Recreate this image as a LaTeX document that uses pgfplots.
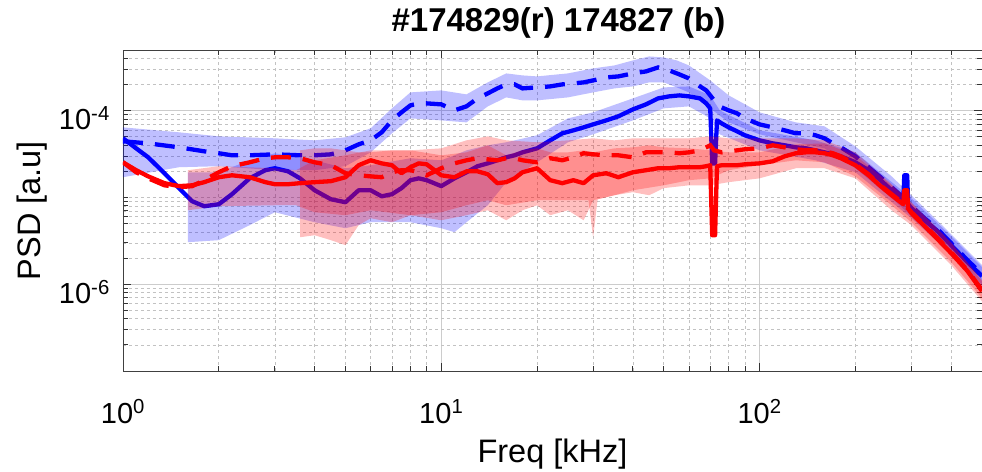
\documentclass[border=0pt]{standalone}
\usepackage{fontspec}
\setmainfont{Liberation Sans}
\usepackage{pgfplots}
\pgfplotsset{compat=1.18}
\definecolor{mblue}{rgb}{0,0,1}
\definecolor{mred}{rgb}{1,0,0}

\begin{document}
\begin{tikzpicture}
\begin{axis}[
  at={(0,0)}, anchor=south west,
  scale only axis, width=859pt, height=321pt,
  xmode=log, ymode=log,
  xmin=1, xmax=500, ymin=1e-7, ymax=5e-4,
  xtick={1,10,100},
  xticklabels={10\textsuperscript{0},10\textsuperscript{1},10\textsuperscript{2}},
  minor xtick={2,3,4,5,6,7,8,9,20,30,40,50,60,70,80,90,200,300,400,500},
  ytick={1e-6,1e-4},
  yticklabels={10\textsuperscript{-6},10\textsuperscript{-4}},
  minor ytick={2e-7,3e-7,4e-7,5e-7,6e-7,7e-7,8e-7,9e-7,2e-6,3e-6,4e-6,5e-6,6e-6,7e-6,8e-6,9e-6,1e-5,2e-5,3e-5,4e-5,5e-5,6e-5,7e-5,8e-5,9e-5,2e-4,3e-4,4e-4},
  grid=both,
  major grid style={black!20, line width=0.7pt},
  minor grid style={black!24, line width=0.6pt, dash pattern=on 3pt off 3pt},
  tick align=inside,
  major tick length=8pt, minor tick length=5pt,
  tick style={black!80, line width=0.8pt},
  axis line style={black!75, line width=0.8pt},
  xticklabel style={font=\fontsize{29}{34}\selectfont, inner sep=0pt, anchor=base, yshift=-52pt},
  yticklabel style={font=\fontsize{29}{34}\selectfont, inner sep=0pt, anchor=base east, xshift=-13pt, yshift=-19pt},
  xlabel={Freq [kHz]},
  xlabel style={font=\fontsize{32.5}{38}\selectfont, at={(axis description cs:0.5,-0.2835)}, anchor=base},
  ylabel={PSD [a.u]},
  ylabel style={font=\fontsize{32.5}{38}\selectfont, at={(axis description cs:-0.0966,0.5)}, anchor=base},
  title={\#174829(r) 174827 (b)},
  title style={font=\bfseries\fontsize{33}{40}\selectfont, at={(axis description cs:0.5,1.0374)}, anchor=base, xshift=6pt},
]
% blue dashed band
\addplot[draw=none, fill=mblue, fill opacity=0.25] coordinates {
 (1,6.42e-5) (1.5,5.63e-5) (2,5.06e-5) (3,4.80e-5) (4,4.55e-5) (5,4.93e-5) (6,6.26e-5) (7,1.063e-4)
 (8,1.624e-4) (10,1.712e-4) (12,1.540e-4) (14,2.117e-4) (16,2.687e-4) (18,2.548e-4) (20,2.482e-4)
 (25,2.687e-4) (30,3.068e-4) (35,3.321e-4) (40,3.792e-4) (45,4.216e-4) (50,4.106e-4) (55,3.792e-4)
 (60,3.321e-4) (70,2.232e-4) (80,1.500e-4) (100,9.56e-5) (130,7.33e-5) (160,6.60e-5) (200,3.88e-5)
 (260,1.75e-5) (300,1.06e-5) (400,3.77e-6) (500,1.66e-6)
 (500,9.8e-7) (400,2.34e-6) (300,6.08e-6) (260,9.79e-6) (200,2.17e-5) (160,3.68e-5) (130,4.32e-5)
 (100,5.34e-5) (80,7.33e-5) (70,1.063e-4) (60,1.624e-4) (55,1.854e-4) (50,2.117e-4) (45,2.117e-4)
 (40,1.904e-4) (35,1.805e-4) (30,1.624e-4) (25,1.422e-4) (20,1.314e-4) (18,1.314e-4) (16,1.422e-4)
 (14,1.121e-4) (12,7.33e-5) (10,7.73e-5) (8,8.15e-5) (7,5.48e-5) (6,3.31e-5) (5,2.29e-5) (4,2.06e-5)
 (3,2.06e-5) (2,2.29e-5) (1.5,2.23e-5) (1,1.71e-5)} -- cycle;
% blue solid band
\addplot[draw=none, fill=mblue, fill opacity=0.25] coordinates {
 (1.6,1.95e-5) (2,1.95e-5) (2.5,2.68e-5) (3,3.23e-5) (4,2.68e-5) (5,2.17e-5) (6,2.35e-5) (8,2.83e-5)
 (10,2.68e-5) (11,3.06e-5) (12,3.49e-5) (14,3.99e-5) (16,4.32e-5) (20,5.20e-5) (25,8.15e-5) (30,9.56e-5)
 (40,1.385e-4) (50,1.854e-4) (60,1.904e-4) (70,1.500e-4) (75,1.008e-4) (100,5.93e-5) (150,4.55e-5)
 (200,3.31e-5) (300,9.79e-6) (400,3.58e-6) (500,1.573e-6)
 (500,9.51e-7) (400,2.22e-6) (300,5.76e-6) (200,1.95e-5) (150,2.68e-5) (100,3.49e-5) (75,5.34e-5)
 (70,8.15e-5) (60,1.121e-4) (50,1.063e-4) (40,7.73e-5) (30,5.34e-5) (25,4.32e-5) (20,2.54e-5)
 (16,1.50e-5) (14,8.13e-6) (12,5.18e-6) (11,3.98e-6) (10,4.42e-6) (8,5.18e-6) (6,5.18e-6) (5,4.42e-6)
 (4,5.18e-6) (3,6.76e-6) (2.5,4.79e-6) (2,3.22e-6) (1.6,3.05e-6)} -- cycle;
% blue solid
\addplot[mblue, line width=4.3pt, line join=round] coordinates {
 (1,4.80e-5) (1.1,3.68e-5) (1.2,2.90e-5) (1.35,1.90e-5) (1.5,1.28e-5) (1.65,9.04e-6) (1.8,7.92e-6)
 (2,8.35e-6) (2.2,1.09e-5) (2.5,1.66e-5) (2.8,2.06e-5) (3,2.17e-5) (3.3,2.00e-5) (3.6,1.66e-5)
 (4,1.21e-5) (4.5,9.53e-6) (5,8.81e-6) (5.5,1.21e-5) (6,1.21e-5) (6.5,1.03e-5) (7,1.09e-5)
 (7.5,1.28e-5) (8,1.58e-5) (8.5,1.66e-5) (9,1.58e-5) (10,1.35e-5) (11,1.66e-5) (12,1.95e-5)
 (13,2.29e-5) (14,2.47e-5) (15,2.68e-5) (16,2.90e-5) (17,3.06e-5) (18,3.31e-5) (20,3.68e-5)
 (22,4.55e-5) (24,5.48e-5) (26,5.93e-5) (28,6.42e-5) (30,6.95e-5) (33,7.73e-5) (36,8.60e-5)
 (40,1.035e-4) (44,1.182e-4) (48,1.385e-4) (52,1.461e-4) (56,1.500e-4) (60,1.461e-4) (65,1.385e-4)
 (68,1.213e-4) (70,1.063e-4) (71,2.47e-5) (72.5,2.47e-5) (73.5,7.73e-5) (76,7.14e-5) (80,6.42e-5)
 (85,5.78e-5) (90,5.20e-5) (100,4.55e-5) (110,4.20e-5) (120,3.99e-5) (130,3.78e-5) (140,3.68e-5)
 (150,3.49e-5) (160,3.31e-5) (170,3.14e-5) (180,2.98e-5) (200,2.54e-5) (220,2.06e-5) (240,1.58e-5)
 (260,1.21e-5) (280,9.79e-6) (283,9.53e-6) (285,1.80e-5) (291,1.80e-5) (293,8.35e-6) (300,7.51e-6)
 (330,5.46e-6) (360,4.19e-6) (400,2.82e-6) (450,1.80e-6) (500,1.24e-6)};
% blue dashed
\addplot[mblue, line width=4.3pt, dash pattern=on 20pt off 12pt] coordinates {
 (1,4.43e-5) (1.2,4.20e-5) (1.5,3.78e-5) (1.8,3.40e-5) (2,3.23e-5) (2.2,3.06e-5) (2.5,3.06e-5)
 (3,3.14e-5) (3.6,3.06e-5) (4,3.06e-5) (4.5,3.14e-5) (5,3.49e-5) (5.5,4.09e-5) (6,4.55e-5)
 (6.5,5.63e-5) (7,7.73e-5) (7.5,9.56e-5) (8,1.151e-4) (8.5,1.213e-4) (9,1.213e-4) (10,1.182e-4)
 (11,1.008e-4) (12,1.121e-4) (13,1.385e-4) (14,1.582e-4) (15,1.805e-4) (16,2.008e-4) (17,2.008e-4)
 (18,1.805e-4) (20,1.854e-4) (22,1.904e-4) (24,2.008e-4) (26,2.062e-4) (28,2.117e-4) (30,2.232e-4)
 (33,2.416e-4) (36,2.482e-4) (40,2.687e-4) (44,2.834e-4) (48,3.150e-4) (52,2.910e-4) (56,2.617e-4)
 (60,2.353e-4) (65,1.904e-4) (68,1.712e-4) (70,1.500e-4) (72,1.314e-4) (76,1.091e-4) (80,1.008e-4)
 (85,9.31e-5) (90,8.15e-5) (100,6.95e-5) (110,6.42e-5) (120,5.93e-5) (130,5.48e-5) (140,5.48e-5)
 (150,5.20e-5) (160,4.80e-5) (170,4.20e-5) (180,3.78e-5) (200,2.98e-5) (220,2.23e-5) (240,1.71e-5)
 (260,1.31e-5) (280,1.03e-5) (300,7.92e-6) (330,5.76e-6) (360,4.42e-6) (400,2.97e-6) (450,1.894e-6)
 (500,1.307e-6)};
% red solid band
\addplot[draw=none, fill=mred, fill opacity=0.25] coordinates {
 (1.6,2.06e-5) (2,2.29e-5) (3,2.17e-5) (3.5,2.06e-5) (4,2.68e-5) (5,3.06e-5) (6,3.49e-5) (8,3.49e-5)
 (10,3.06e-5) (12,3.31e-5) (14,3.99e-5) (16,3.06e-5) (18,3.49e-5) (20,3.68e-5) (22,3.31e-5) (25,3.31e-5)
 (28,3.49e-5) (30,3.31e-5) (35,3.68e-5) (40,3.78e-5) (45,3.99e-5) (50,3.78e-5) (60,3.68e-5) (70,3.49e-5)
 (80,3.31e-5) (100,3.31e-5) (130,4.09e-5) (160,4.20e-5) (200,3.06e-5) (260,1.38e-5) (300,8.58e-6)
 (400,2.97e-6) (500,1.085e-6)
 (500,6.39e-7) (400,1.66e-6) (300,4.79e-6) (260,7.12e-6) (200,1.66e-5) (160,2.17e-5) (130,2.17e-5)
 (100,1.66e-5) (80,1.50e-5) (70,1.38e-5) (60,1.38e-5) (50,1.28e-5) (45,1.06e-5) (40,1.15e-5) (35,1.06e-5)
 (30,9.29e-6) (28,5.46e-6) (25,7.12e-6) (22,6.24e-6) (20,8.13e-6) (18,7.12e-6) (16,5.46e-6) (14,7.12e-6)
 (12,6.24e-6) (10,5.46e-6) (8,6.24e-6) (6,7.12e-6) (5,6.24e-6) (4,6.76e-6) (3.5,8.13e-6) (3,8.13e-6)
 (2,7.92e-6) (1.6,7.12e-6)} -- cycle;
% red dashed band
\addplot[draw=none, fill=mred, fill opacity=0.25] coordinates {
 (3.6,3.49e-5) (4,3.68e-5) (4.5,3.68e-5) (5,3.49e-5) (5.5,3.31e-5) (6,3.31e-5) (7,3.49e-5) (8,3.49e-5)
 (10,3.68e-5) (12,4.55e-5) (14,5.06e-5) (16,4.55e-5) (20,4.32e-5) (25,4.55e-5) (30,4.80e-5) (35,4.55e-5)
 (40,4.80e-5) (50,4.80e-5) (60,4.80e-5) (70,5.06e-5) (80,4.80e-5) (100,4.80e-5) (130,4.80e-5)
 (160,4.55e-5) (200,3.31e-5) (260,1.42e-5) (300,8.81e-6) (400,3.05e-6) (500,1.11e-6)
 (500,6.92e-7) (400,1.80e-6) (300,5.18e-6) (260,8.13e-6) (200,1.75e-5) (160,2.54e-5) (130,2.68e-5)
 (100,2.35e-5) (80,2.06e-5) (70,1.66e-5) (60,1.58e-5) (50,1.38e-5) (40,1.21e-5) (35,1.06e-5)
 (31,9.5e-6) (30,3.48e-6) (29,9.29e-6) (25,9.29e-6) (20,9.29e-6) (16,8.13e-6) (14,9.29e-6) (12,8.13e-6)
 (10,6.76e-6) (8,6.24e-6) (7,5.18e-6) (6,5.76e-6) (5.5,4.79e-6) (5,2.82e-6) (4.5,3.22e-6) (4,3.67e-6)
 (3.6,3.48e-6)} -- cycle;
% red solid
\addplot[mred, line width=4.3pt, line join=round] coordinates {
 (1,2.54e-5) (1.1,2.06e-5) (1.2,1.75e-5) (1.35,1.46e-5) (1.5,1.35e-5) (1.65,1.38e-5) (1.8,1.50e-5)
 (2,1.71e-5) (2.2,1.80e-5) (2.5,1.71e-5) (2.8,1.50e-5) (3,1.42e-5) (3.3,1.42e-5) (3.6,1.46e-5)
 (4,1.50e-5) (4.5,1.54e-5) (5,1.71e-5) (5.5,2.35e-5) (6,2.68e-5) (6.5,2.47e-5) (7,2.35e-5)
 (7.5,1.90e-5) (8,2.23e-5) (8.5,2.47e-5) (9,2.41e-5) (10,1.80e-5) (11,1.71e-5) (12,2.00e-5)
 (13,2.00e-5) (14,1.85e-5) (15,1.46e-5) (16,1.50e-5) (17,1.66e-5) (18,1.95e-5) (20,2.17e-5)
 (22,1.58e-5) (24,1.46e-5) (26,1.58e-5) (28,1.46e-5) (30,1.80e-5) (33,1.90e-5) (36,1.71e-5)
 (40,1.95e-5) (44,2.06e-5) (48,2.17e-5) (52,2.17e-5) (56,2.23e-5) (60,2.23e-5) (65,2.23e-5)
 (68,2.29e-5) (70,2.35e-5) (71,3.67e-6) (72.5,3.67e-6) (73.5,2.29e-5) (76,2.35e-5) (80,2.35e-5)
 (85,2.35e-5) (90,2.41e-5) (100,2.47e-5) (110,2.61e-5) (120,2.98e-5) (130,3.23e-5) (140,3.31e-5)
 (150,3.31e-5) (160,3.23e-5) (170,3.06e-5) (180,2.83e-5) (200,2.35e-5) (220,1.80e-5) (240,1.35e-5)
 (260,1.06e-5) (280,8.58e-6) (283,8.35e-6) (285,1.21e-5) (291,1.21e-5) (293,7.51e-6) (300,6.58e-6)
 (330,4.66e-6) (360,3.39e-6) (400,2.28e-6) (450,1.42e-6) (500,8.33e-7)};
% red dashed
\addplot[mred, line width=4.3pt, dash pattern=on 20pt off 12pt] coordinates {
 (1,2.54e-5) (1.1,1.95e-5) (1.2,1.66e-5) (1.35,1.38e-5) (1.5,1.31e-5) (1.65,1.35e-5) (1.8,1.58e-5)
 (2,1.95e-5) (2.2,2.29e-5) (2.5,2.54e-5) (2.8,2.83e-5) (3,2.90e-5) (3.3,2.90e-5) (3.6,2.83e-5)
 (4,2.54e-5) (4.5,2.35e-5) (5,1.90e-5) (5.5,1.80e-5) (6,1.75e-5) (6.5,1.71e-5) (7,1.95e-5)
 (7.5,2.06e-5) (8,2.06e-5) (8.5,1.95e-5) (9,1.80e-5) (10,2.17e-5) (11,2.47e-5) (12,2.68e-5)
 (13,2.83e-5) (14,2.75e-5) (15,2.68e-5) (16,2.83e-5) (17,2.83e-5) (18,2.68e-5) (20,2.54e-5)
 (22,2.83e-5) (24,2.68e-5) (26,2.90e-5) (28,3.23e-5) (30,3.14e-5) (33,3.06e-5) (36,3.06e-5)
 (40,2.90e-5) (44,3.31e-5) (48,3.31e-5) (52,3.31e-5) (56,3.23e-5) (60,3.31e-5) (65,3.49e-5)
 (68,3.78e-5) (70,3.99e-5) (72,3.49e-5) (76,3.31e-5) (80,3.40e-5) (85,3.49e-5) (90,3.59e-5)
 (100,3.68e-5) (110,3.99e-5) (120,3.78e-5) (130,3.59e-5) (140,3.49e-5) (150,3.49e-5) (160,3.40e-5)
 (170,3.23e-5) (180,2.98e-5) (200,2.41e-5) (220,1.85e-5) (240,1.38e-5) (260,1.09e-5) (280,8.81e-6)
 (300,6.76e-6) (330,4.79e-6) (360,3.48e-6) (400,2.34e-6) (450,1.45e-6) (500,8.55e-7)};
\end{axis}
\pgfresetboundingbox
\useasboundingbox (-123pt,-100pt) rectangle (859pt,371pt);
\end{tikzpicture}
\end{document}
